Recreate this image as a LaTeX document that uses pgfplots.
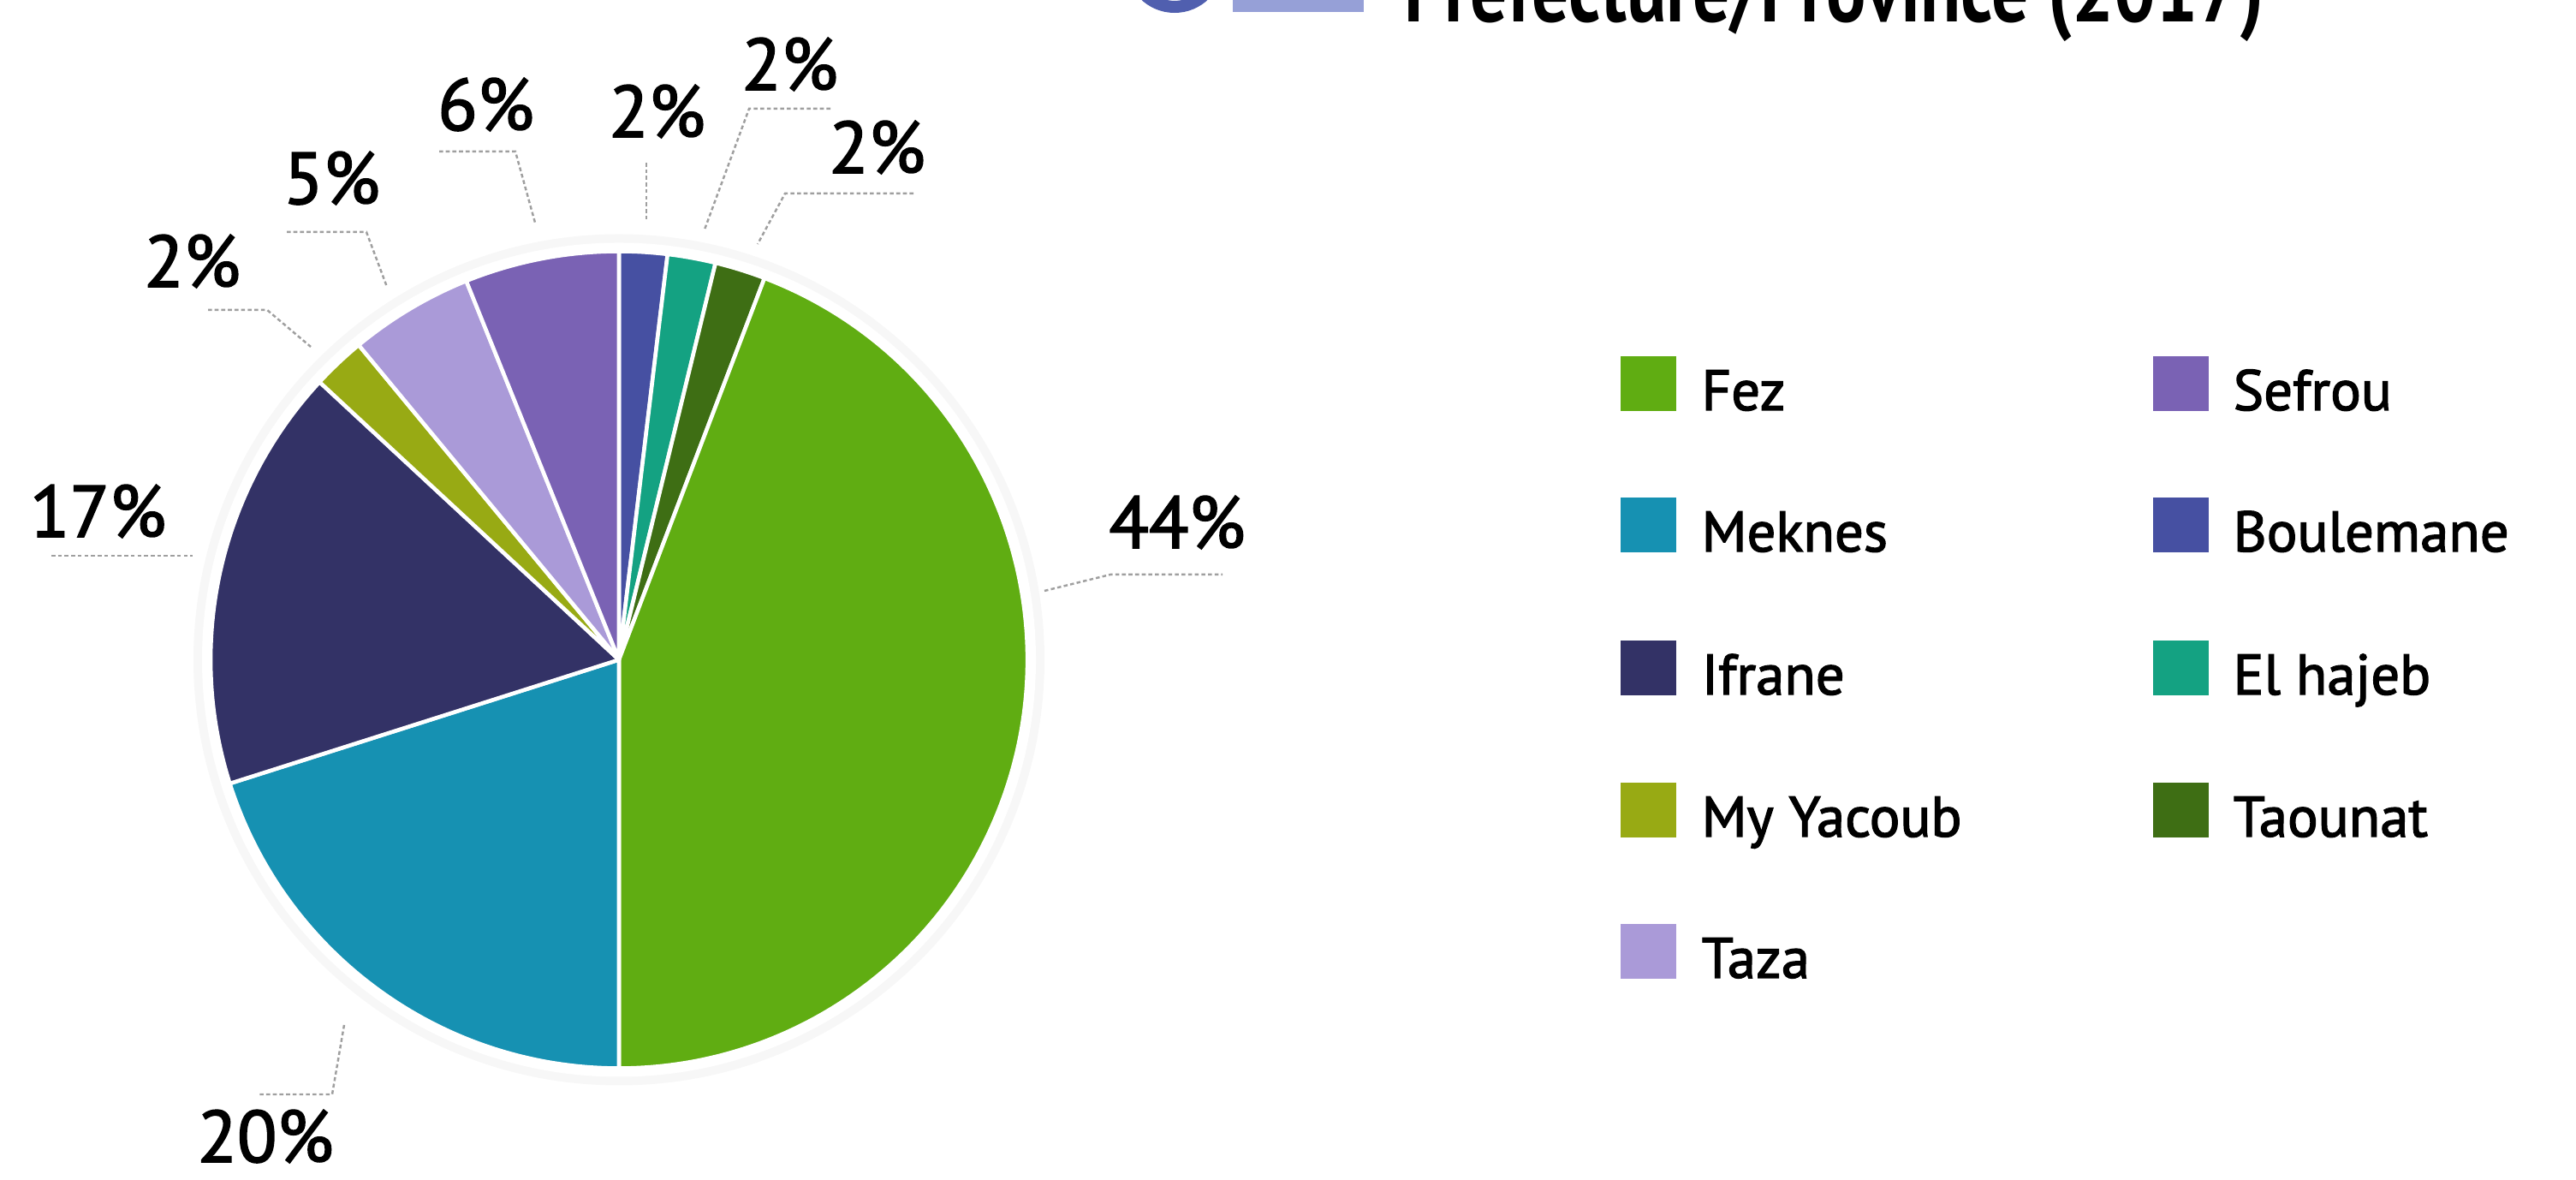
\documentclass[border=0pt]{standalone}
\usepackage{pgfplots}
\usepackage{pgfplotstable}
\pgfplotsset{compat=1.18}
\usepackage{fontspec}
\setmainfont{PT Sans}
\newfontfamily\medfam{PT Sans}[FakeBold=2]

\definecolor{cFez}{RGB}{96,173,18}
\definecolor{cMek}{RGB}{22,145,178}
\definecolor{cIfr}{RGB}{51,50,102}
\definecolor{cMyY}{RGB}{152,170,20}
\definecolor{cTaz}{RGB}{170,154,216}
\definecolor{cSef}{RGB}{122,98,180}
\definecolor{cBou}{RGB}{70,80,162}
\definecolor{cElh}{RGB}{20,162,130}
\definecolor{cTao}{RGB}{62,110,20}
\definecolor{logo}{RGB}{80,95,175}
\definecolor{logob}{RGB}{150,160,215}

% slices, clockwise from 12 o'clock
\pgfplotstableread{
name       value color
Boulemane  1.9   cBou
Elhajeb    1.9   cElh
Taounat    2.0   cTao
Fez        44.2  cFez
Meknes     20.1  cMek
Ifrane     16.8  cIfr
MyYacoub   2.1   cMyY
Taza       4.9   cTaz
Sefrou     6.1   cSef
}\piedata

\newcommand{\lblfont}{\medfam\fontsize{24.3}{28}\selectfont}
\newcommand{\legfont}{\medfam\fontsize{19}{22}\selectfont}

\begin{document}
\begin{tikzpicture}
\begin{axis}[
  scale only axis, width=30.09cm, height=13.78cm,
  xmin=0, xmax=3009, ymin=0, ymax=1378,
  hide axis, clip=false]
\coordinate (BL) at (axis cs:0,0);
\coordinate (TR) at (axis cs:3009,1378);

% halo
\fill[gray!6] (axis cs:723,607.5) circle[radius=4.97cm];
\fill[white] (axis cs:723,607.5) circle[radius=4.87cm];

% pie slices
\pgfplotstablegetrowsof{\piedata}
\pgfmathtruncatemacro\nrows{\pgfplotsretval-1}
\def\cum{0}
\pgfplotsforeachungrouped \i in {0,...,\nrows}{%
  \pgfplotstablegetelem{\i}{value}\of\piedata \let\val\pgfplotsretval
  \pgfplotstablegetelem{\i}{color}\of\piedata \let\col\pgfplotsretval
  \pgfmathsetmacro\aS{90-3.6*\cum}%
  \pgfmathsetmacro\aE{90-3.6*(\cum+\val)}%
  \pgfmathsetmacro\cum{\cum+\val}%
  \edef\temp{\noexpand\fill[\col, draw=white, line width=1.3pt, line join=round]
    (axis cs:723,607.5) -- ++(\aS:4.77cm) arc[start angle=\aS, end angle=\aE, radius=4.77cm] -- cycle;}%
  \temp
}

% leader lines
\tikzset{lead/.style={gray!75, line width=0.7pt, dash pattern=on 1.3pt off 0.9pt}}
\draw[lead] (axis cs:1220,688) -- (axis cs:1297,707) -- (axis cs:1428,707);
\draw[lead] (axis cs:402,181) -- (axis cs:388,100) -- (axis cs:301,100);
\draw[lead] (axis cs:60,729) -- (axis cs:225,729);
\draw[lead] (axis cs:243,1016) -- (axis cs:312,1016) -- (axis cs:363,973);
\draw[lead] (axis cs:335,1107) -- (axis cs:428,1107) -- (axis cs:452,1043);
\draw[lead] (axis cs:513,1201) -- (axis cs:602,1201) -- (axis cs:625,1118);
\draw[lead] (axis cs:755,1188) -- (axis cs:755,1120);
\draw[lead] (axis cs:970,1251) -- (axis cs:875,1251) -- (axis cs:823,1110);
\draw[lead] (axis cs:1067,1152) -- (axis cs:917,1152) -- (axis cs:885,1093);

% percentage labels
\tikzset{pl/.style={anchor=base, inner sep=0pt, font=\lblfont}}
\node[pl] at (axis cs:1375,738) {44\%};
\node[pl] at (axis cs:310,21) {20\%};
\node[pl] at (axis cs:114.5,751) {17\%};
\node[pl] at (axis cs:224.5,1043) {2\%};
\node[pl] at (axis cs:387.5,1140) {5\%};
\node[pl] at (axis cs:567.5,1226) {6\%};
\node[pl] at (axis cs:767.5,1218) {2\%};
\node[pl] at (axis cs:922.5,1273) {2\%};
\node[pl] at (axis cs:1024.5,1176) {2\%};

% legend
\tikzset{lt/.style={anchor=base west, inner sep=0pt, font=\legfont}}
\fill[cFez] (axis cs:1893,898) rectangle (axis cs:1958,962);
\node[lt] at (axis cs:1987,899) {Fez};
\fill[cMek] (axis cs:1893,733) rectangle (axis cs:1958,797);
\node[lt] at (axis cs:1987,734) {Meknes};
\fill[cIfr] (axis cs:1893,566) rectangle (axis cs:1958,630);
\node[lt] at (axis cs:1987,567) {Ifrane};
\fill[cMyY] (axis cs:1893,400) rectangle (axis cs:1958,464);
\node[lt] at (axis cs:1987,401) {My Yacoub};
\fill[cTaz] (axis cs:1893,235) rectangle (axis cs:1958,299);
\node[lt] at (axis cs:1987,236) {Taza};
\fill[cSef] (axis cs:2515,898) rectangle (axis cs:2580,962);
\node[lt] at (axis cs:2608,899) {Sefrou};
\fill[cBou] (axis cs:2515,733) rectangle (axis cs:2580,797);
\node[lt] at (axis cs:2608,734) {Boulemane};
\fill[cElh] (axis cs:2515,566) rectangle (axis cs:2580,630);
\node[lt] at (axis cs:2608,567) {El hajeb};
\fill[cTao] (axis cs:2515,400) rectangle (axis cs:2580,464);
\node[lt] at (axis cs:2608,401) {Taounat};

% title (cut by the top edge) and logo fragment
\node[anchor=base west, inner sep=0pt, xscale=0.82] at (axis cs:1640,1352)
  {\fontsize{30}{34}\selectfont\bfseries Prefecture/Province (2017)};
\draw[logo, line width=4pt] (axis cs:1372,1420) circle[radius=0.5cm];
\fill[logob] (axis cs:1440,1364) rectangle (axis cs:1593,1420);
\end{axis}
\pgfresetboundingbox
\path (BL) rectangle (TR);
\end{tikzpicture}
\end{document}
